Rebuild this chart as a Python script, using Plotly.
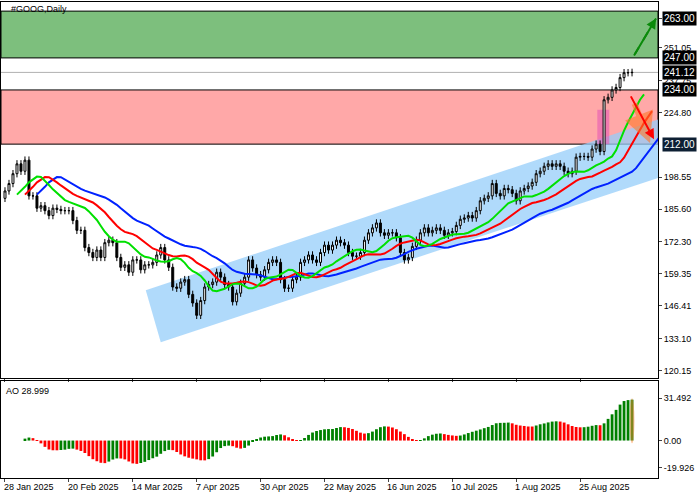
import numpy as np
import plotly.graph_objects as go
from plotly.subplots import make_subplots

# daily closes (28 Jan 2025 .. early Sep 2025)
closes = [193, 196, 200, 204, 201, 205.5, 191, 191, 186, 187, 185, 183, 186, 185.5, 185, 185, 185,
          181, 177, 177, 170, 168, 166, 169, 166, 172, 173, 172, 166, 162, 163, 160, 165, 165, 161,
          163, 163, 164, 167, 170, 165, 162, 154, 153.5, 156, 157, 151, 147.5, 142.5, 148.5, 154,
          155, 156, 160,
          158, 155, 154, 148, 151.5, 155.5, 158, 165, 161.7, 159, 158, 161, 164, 165, 164, 157,
          153.5, 153.5, 157, 158, 164, 165, 167, 165, 164, 168, 171, 169, 171, 173, 172, 171, 168,
          166.5, 166.5, 168, 173, 176, 178, 180, 176, 175, 176, 176, 174, 168, 165, 166, 170.5,
          173, 176,
          178, 176, 177, 178, 177, 175, 176, 176.5, 179, 181.5, 182, 183, 182, 185, 189, 190, 191,
          196, 192, 191, 194, 193.5, 192, 189, 193, 194, 195, 196.5, 200, 201, 203, 204, 203, 204,
          203, 201, 200, 201, 206.7, 207, 207, 206.7, 210, 212, 209, 230, 231, 234, 235, 239, 241,
          241, 241.12]
first_open = 190
wick = 1.5

tick_idx = [0, 16, 32, 48, 64, 80, 96, 112, 128, 144]
tick_text = ["28 Jan 2025", "20 Feb 2025", "14 Mar 2025", "7 Apr 2025", "30 Apr 2025",
             "22 May 2025", "16 Jun 2025", "10 Jul 2025", "1 Aug 2025", "25 Aug 2025"]
price_ticks = [263.00, 251.05, 237.75, 224.80, 198.55, 185.60, 172.30, 159.35, 146.41, 133.10, 120.15]
boxed_levels = [263.00, 247.00, 241.12, 234.00, 212.00]
ao_ticks = [31.492, 0.0, -19.926]

green_zone = (247, 266)
red_zone = (212, 234)
pink_box = (148.3, 151.3, 212, 226)
channel = [(35.25, 152.7), (39, 131.6), (173.25, 203.5), (169, 225)]

c = np.array(closes, dtype=float)
o = np.concatenate([[first_open], c[:-1]])
h = np.maximum(o, c) + wick
l = np.minimum(o, c) - wick
n = len(c)
x = np.arange(n)
med = (h + l) / 2


def smma(src, p):
    out = np.empty(len(src))
    for i in range(len(src)):
        if i < p:
            out[i] = src[:i + 1].mean()
        else:
            out[i] = (out[i - 1] * (p - 1) + src[i]) / p
    return out


jaw, teeth, lips = smma(med, 13), smma(med, 8), smma(med, 5)
ao = np.array([med[max(0, i - 4):i + 1].mean() - med[max(0, i - 33):i + 1].mean() for i in range(n)])
ao_col = ["#ff0000" if i > 0 and ao[i] < ao[i - 1] else "#008000" for i in range(n)]

fig = make_subplots(rows=2, cols=1, shared_xaxes=True, vertical_spacing=0.006,
                    row_heights=[0.795, 0.205])

fig.add_trace(go.Candlestick(x=x, open=o, high=h, low=l, close=c,
                             increasing=dict(line=dict(color="black", width=1), fillcolor="white"),
                             decreasing=dict(line=dict(color="black", width=1), fillcolor="black"),
                             whiskerwidth=0, showlegend=False, hoverinfo="skip"), row=1, col=1)
for arr, sh, col in [(jaw, 8, "#0022ff"), (teeth, 5, "#ff0000"), (lips, 3, "#00e000")]:
    fig.add_trace(go.Scatter(x=x + sh, y=arr, mode="lines", line=dict(color=col, width=2),
                             showlegend=False, hoverinfo="skip"), row=1, col=1)

fig.add_trace(go.Bar(x=x, y=ao, marker=dict(color=ao_col, line_width=0), width=0.7,
                     showlegend=False, hoverinfo="skip"), row=2, col=1)

# zones and channel
fig.add_shape(type="rect", xref="x domain", x0=0, x1=1, yref="y", y0=green_zone[0], y1=green_zone[1],
              fillcolor="#7dbf7d", line=dict(color="black", width=1), layer="below")
fig.add_shape(type="rect", xref="x domain", x0=0, x1=1, yref="y", y0=red_zone[0], y1=red_zone[1],
              fillcolor="#ffa8a8", line=dict(color="black", width=1), layer="below")
path = "M " + " L ".join(f"{px},{py}" for px, py in channel) + " Z"
fig.add_shape(type="path", path=path, xref="x", yref="y", fillcolor="rgba(150,206,250,0.75)",
              line_width=0, layer="below")
fig.add_shape(type="rect", xref="x", yref="y", x0=pink_box[0], x1=pink_box[1], y0=pink_box[2],
              y1=pink_box[3], fillcolor="rgba(230,90,180,0.6)", line_width=0, layer="below")
fig.add_shape(type="line", xref="x domain", x0=0, x1=1, yref="y", y0=241.12, y1=241.12,
              line=dict(color="#b0b0b0", width=1), layer="below")
# highlight on the last AO bar
fig.add_shape(type="circle", xref="x2", yref="y2", x0=n - 1.6, x1=n - 0.4, y0=-2, y1=ao[-1] + 1,
              fillcolor="rgba(255,140,60,0.5)", line_width=0)

# arrows
fig.add_annotation(x=163, y=263, ax=157.5, ay=248, xref="x", yref="y", axref="x", ayref="y",
                   showarrow=True, arrowhead=2, arrowsize=1, arrowwidth=2, arrowcolor="#0a8a0a", text="")
fig.add_shape(type="line", x0=157.5, y0=248, x1=163, y1=263, xref="x", yref="y",
              line=dict(color="#0a8a0a", width=2, dash="dash"))
fig.add_annotation(x=161.5, y=212.5, ax=157.5, ay=229, xref="x", yref="y", axref="x", ayref="y",
                   showarrow=True, arrowhead=2, arrowsize=1, arrowwidth=6,
                   arrowcolor="rgba(255,120,40,0.6)", text="")
fig.add_annotation(x=162.5, y=214, ax=156.5, ay=232, xref="x", yref="y", axref="x", ayref="y",
                   showarrow=True, arrowhead=2, arrowsize=1, arrowwidth=2, arrowcolor="#ff0000", text="")

for lv in boxed_levels:
    fig.add_annotation(x=1.006, xref="paper", y=lv, yref="y", text=f"{lv:.2f}", showarrow=False,
                       xanchor="left", bgcolor="#0d1f33" if lv == 212 else "black",
                       font=dict(color="white", size=10), borderpad=1)

for ti, tt in zip(tick_idx, tick_text):
    fig.add_annotation(x=ti, xref="x2", y=-0.005, yref="paper", text=tt, showarrow=False,
                       xanchor="left", yanchor="top", xshift=-3, font=dict(size=9))

fig.add_annotation(x=0.012, y=1.0, xref="paper", yref="paper", text="#GOOG,Daily", showarrow=False,
                   xanchor="left", yanchor="top", font=dict(size=9, color="black"))
fig.add_annotation(x=0.005, y=0.197, xref="paper", yref="paper", text="AO 28.999", showarrow=False,
                   xanchor="left", yanchor="top", font=dict(size=9, color="black"))

axis_common = dict(showgrid=False, zeroline=False, mirror=True, showline=True, automargin=False,
                   linecolor="black", linewidth=1, ticks="outside", ticklen=3,
                   tickfont=dict(size=9))
fig.update_xaxes(range=[-1, 163.5], rangeslider_visible=False, **axis_common)
fig.update_xaxes(tickvals=tick_idx, showticklabels=False, row=2, col=1)
fig.update_xaxes(tickvals=tick_idx, showticklabels=False, row=1, col=1)
fig.update_yaxes(side="right", **axis_common)
fig.update_yaxes(range=[117, 269.7], tickvals=price_ticks, ticktext=[f"{v:.2f}" for v in price_ticks],
                 row=1, col=1)
fig.update_yaxes(range=[-27.8, 44.2], tickvals=ao_ticks,
                 ticktext=["31.492", "0.00", "-19.926"], row=2, col=1)

fig.update_layout(width=700, height=500, margin=dict(l=1, r=42, t=2, b=22),
                  plot_bgcolor="white", paper_bgcolor="white", bargap=0.3,
                  font=dict(family="Liberation Sans, Arial", size=9, color="black"))

fig.write_html("out.html", config={"displayModeBar": False},
               post_script="document.body.style.margin='0';")
